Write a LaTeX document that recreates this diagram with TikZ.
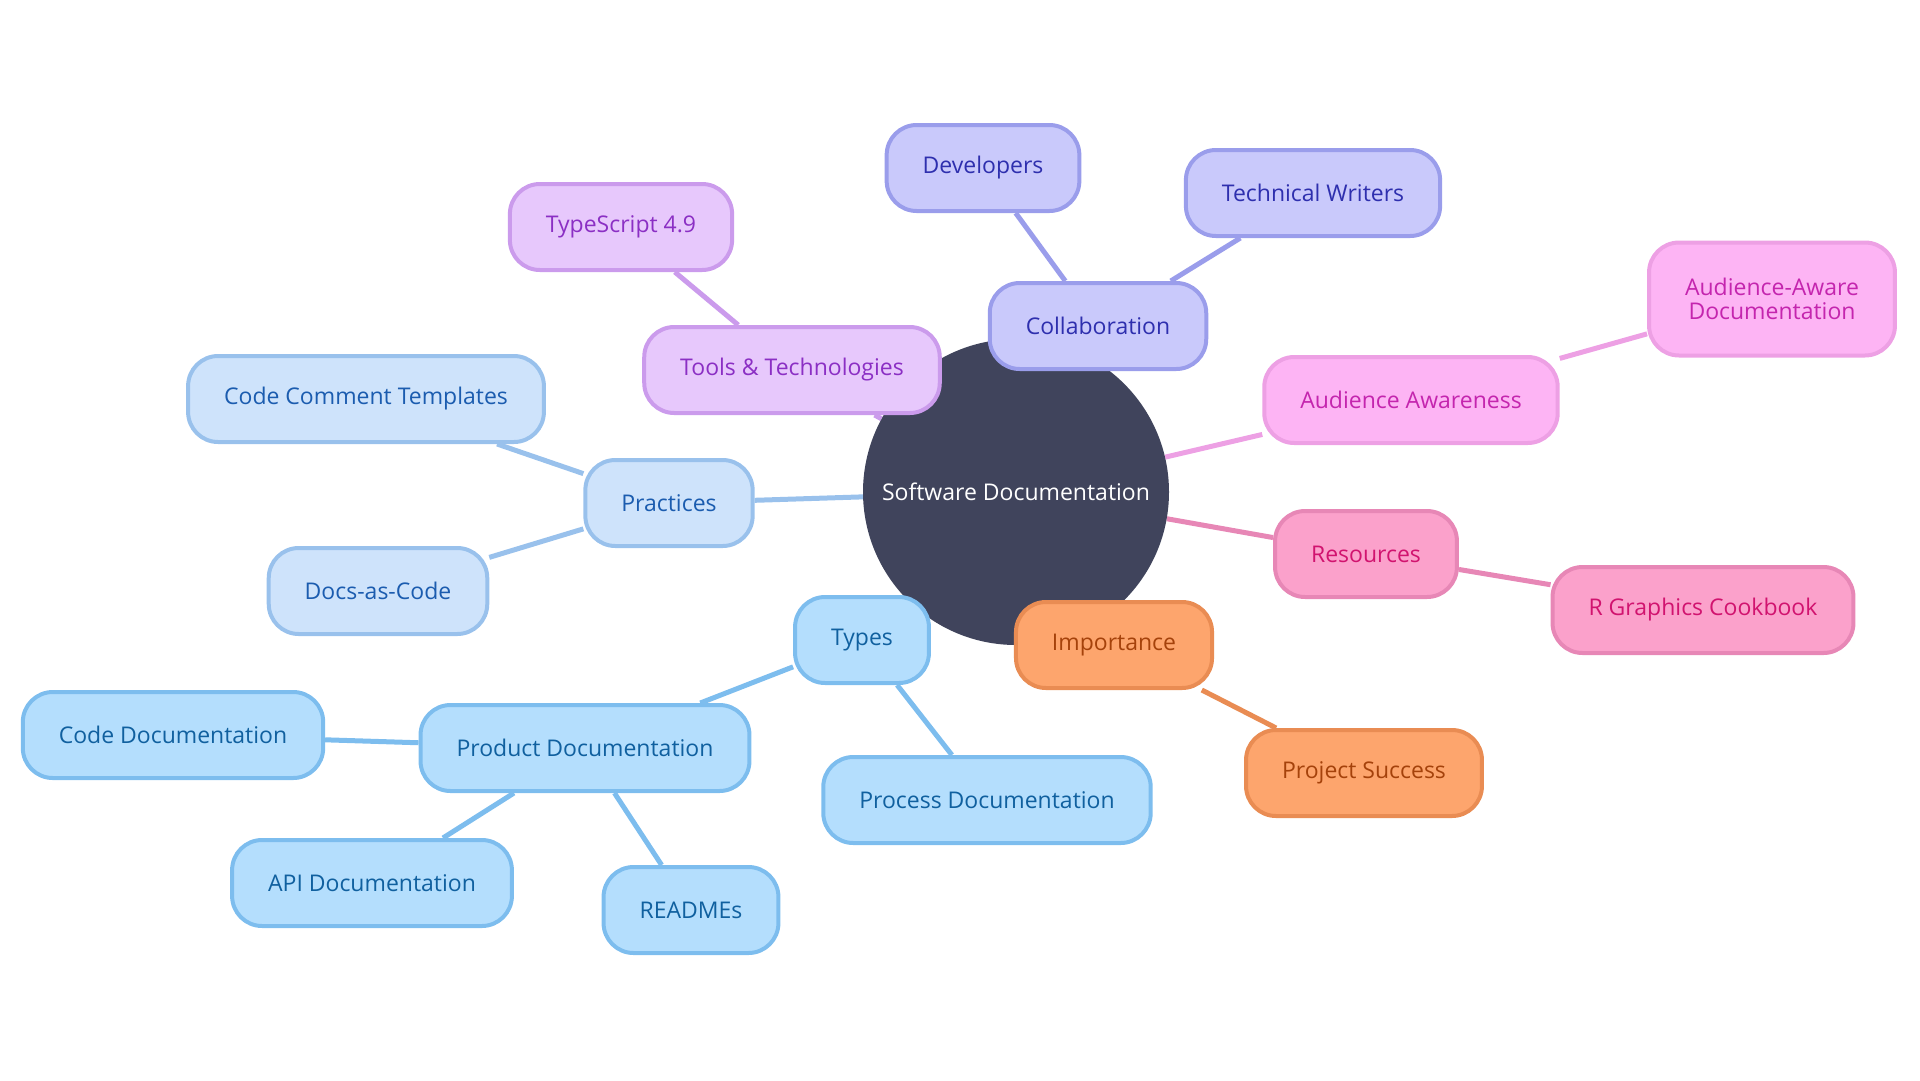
\documentclass[tikz,border=0pt]{standalone}
\usepackage{fontspec}
\setmainfont{Open Sans}
\usetikzlibrary{positioning, backgrounds}

\definecolor{rootFill}{HTML}{40445C}
\definecolor{collabFill}{HTML}{C9C9FB}\definecolor{collabLine}{HTML}{9A9DEB}\definecolor{collabText}{HTML}{2E2FAE}
\definecolor{toolsFill}{HTML}{E7C8FC}\definecolor{toolsLine}{HTML}{CB9BEC}\definecolor{toolsText}{HTML}{8B2FC4}
\definecolor{audFill}{HTML}{FDB4F4}\definecolor{audLine}{HTML}{EDA0E4}\definecolor{audText}{HTML}{C425AE}
\definecolor{resFill}{HTML}{FBA1CB}\definecolor{resLine}{HTML}{E787B6}\definecolor{resText}{HTML}{D1136F}
\definecolor{impFill}{HTML}{FDA56D}\definecolor{impLine}{HTML}{E98C53}\definecolor{impText}{HTML}{A5420B}
\definecolor{pracFill}{HTML}{CEE3FB}\definecolor{pracLine}{HTML}{99C1EC}\definecolor{pracText}{HTML}{1B5CAF}
\definecolor{typeFill}{HTML}{B4DEFD}\definecolor{typeLine}{HTML}{7DBDEE}\definecolor{typeText}{HTML}{10609F}

\begin{document}
\begin{tikzpicture}[
    x=1pt, y=-1pt,
    font=\fontsize{23}{28}\selectfont,
    % Node styles
    root/.style={circle, fill=rootFill, text=white, minimum size=306pt, inner sep=0pt},
    leaf/.style={rounded corners=30pt, line width=4pt, minimum height=86pt,
        inner xsep=36pt, align=center},
    % one style per branch: fill, border and text colour
    branch/.style n args={3}{leaf, fill=#1, draw=#2, text=#3},
    collab/.style={branch={collabFill}{collabLine}{collabText}},
    tools/.style={branch={toolsFill}{toolsLine}{toolsText}},
    aud/.style={branch={audFill}{audLine}{audText}},
    res/.style={branch={resFill}{resLine}{resText}},
    imp/.style={branch={impFill}{impLine}{impText}},
    prac/.style={branch={pracFill}{pracLine}{pracText}},
    types/.style={branch={typeFill}{typeLine}{typeText}},
    % Connector style
    link/.style={line width=5pt, draw=#1}
]
    \useasboundingbox (0,0) rectangle (1920,1080);

    % --- Root ---
    \node[root] (soft) at (1016,492) {Software Documentation};

    % --- Collaboration ---
    \node[collab] (collab) at (1098,326) {Collaboration};
    \node[collab] (dev) at (983,168) {Developers};
    \node[collab] (techw) at (1313,193) {Technical Writers};

    % --- Tools & Technologies ---
    \node[tools] (tools) at (792,370) {Tools \& Technologies};
    \node[tools] (ts) at (621,227) {TypeScript 4.9};

    % --- Audience Awareness ---
    \node[aud] (aud) at (1411,400) {Audience Awareness};
    \node[aud, minimum height=113pt] (audaware) at (1772,299) {Audience-Aware\\[-4pt]Documentation};

    % --- Resources ---
    \node[res] (res) at (1366,554) {Resources};
    \node[res] (rgc) at (1703,610) {R Graphics Cookbook};

    % --- Importance ---
    \node[imp] (imp) at (1114,645) {Importance};
    \node[imp] (proj) at (1364,773) {Project Success};

    % --- Practices ---
    \node[prac] (prac) at (669,503) {Practices};
    \node[prac] (cct) at (366,399) {Code Comment Templates};
    \node[prac] (dac) at (378,591) {Docs-as-Code};

    % --- Types ---
    \node[types] (types) at (862,640) {Types};
    \node[types] (prod) at (585,748) {Product Documentation};
    \node[types] (proc) at (987,800) {Process Documentation};
    \node[types] (codedoc) at (173,735) {Code Documentation};
    \node[types] (api) at (372,883) {API Documentation};
    \node[types] (readme) at (691,910) {READMEs};

    % --- Connectors (behind the nodes) ---
    \begin{scope}[on background layer]
        \draw[link=collabLine] (soft) -- (collab);
        \draw[link=collabLine] (collab) -- (dev);
        \draw[link=collabLine] (collab) -- (techw);
        \draw[link=toolsLine] (soft) -- (tools);
        \draw[link=toolsLine] (tools) -- (ts);
        \draw[link=audLine] (soft) -- (aud);
        \draw[link=audLine] (aud) -- (audaware);
        \draw[link=resLine] (soft) -- (res);
        \draw[link=resLine] (res) -- (rgc);
        \draw[link=impLine] (soft) -- (imp);
        \draw[link=impLine] (imp) -- (proj);
        \draw[link=pracLine] (soft) -- (prac);
        \draw[link=pracLine] (prac) -- (cct);
        \draw[link=pracLine] (prac) -- (dac);
        \draw[link=typeLine] (soft) -- (types);
        \draw[link=typeLine] (types) -- (prod);
        \draw[link=typeLine] (types) -- (proc);
        \draw[link=typeLine] (prod) -- (codedoc);
        \draw[link=typeLine] (prod) -- (api);
        \draw[link=typeLine] (prod) -- (readme);
    \end{scope}

\end{tikzpicture}
\end{document}
